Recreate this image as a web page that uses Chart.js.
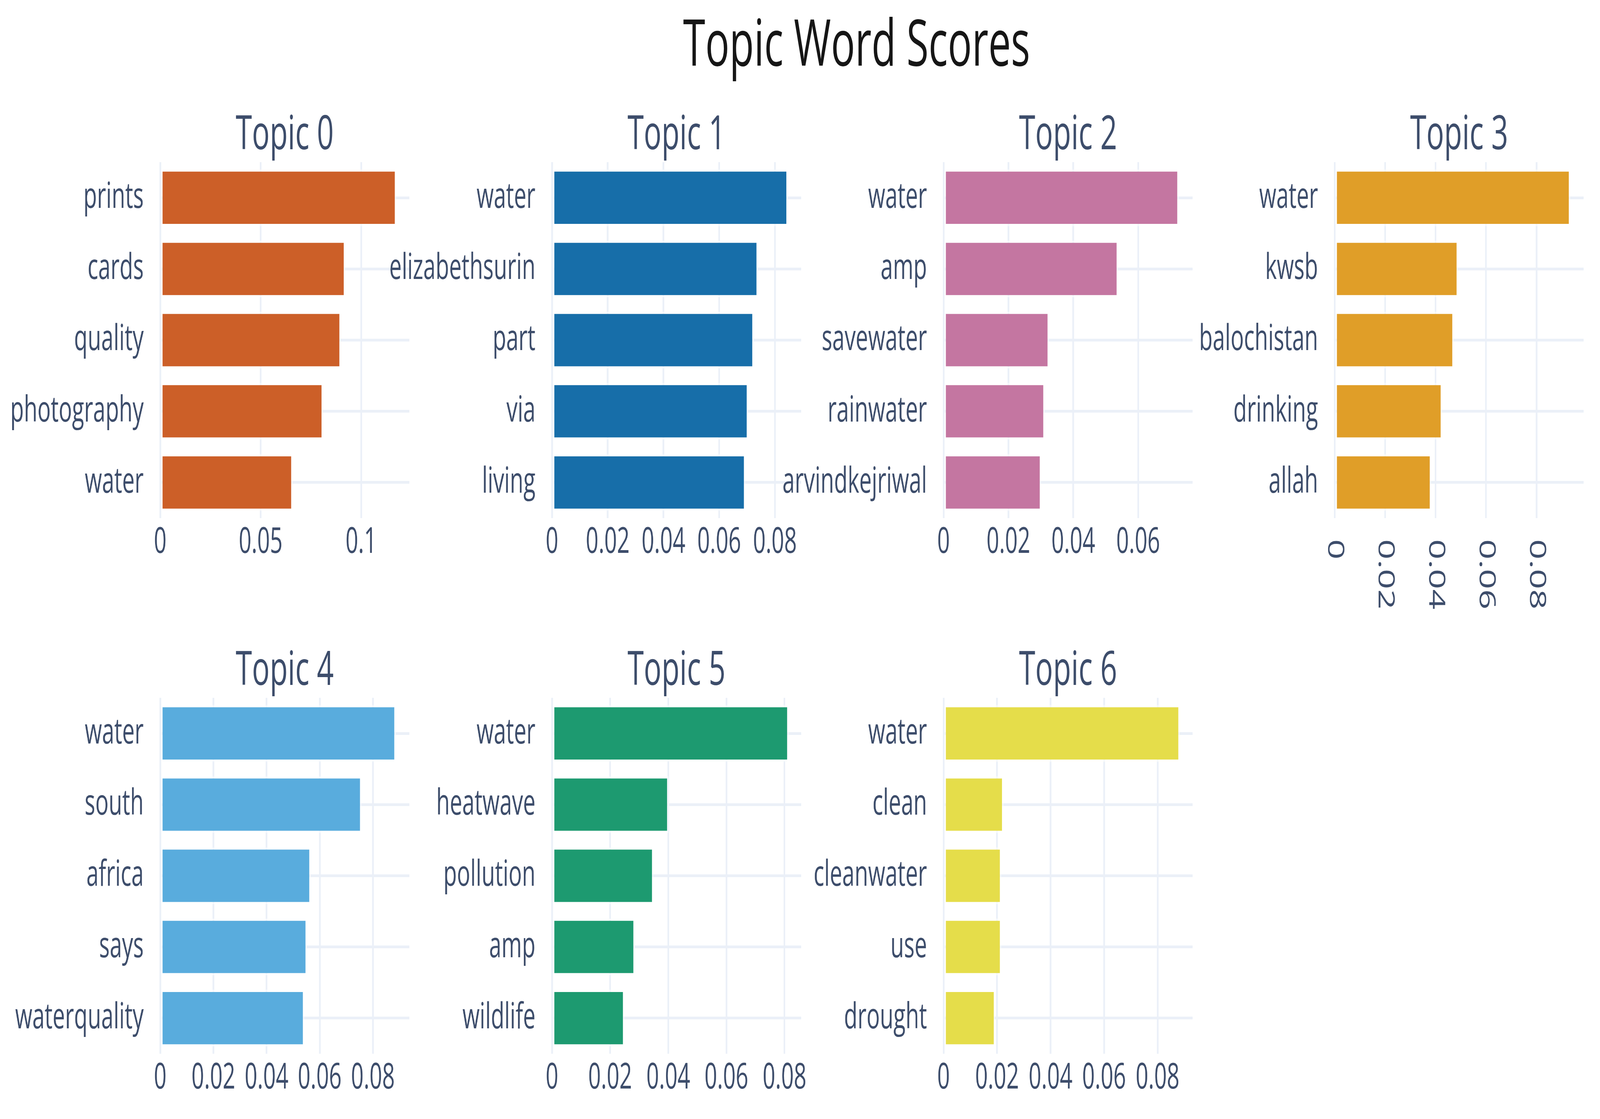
<!DOCTYPE html>
<html>
<head>
<meta charset="utf-8">
<script src="https://cdn.jsdelivr.net/npm/chart.js@4.4.1/dist/chart.umd.min.js"></script>
<style>
    html, body { margin: 0; padding: 0; background: #fff; overflow: hidden; }
    #page { width: 6571px; height: 2864px; position: absolute; left: 0; top: 0;
        transform-origin: 0 0; font-family: "Open Sans", sans-serif; background: #fff; }
    .box { position: absolute; }
    .mainTitle { position: absolute; left: 2518px; top: 4px; width: 2000px; text-align: center;
        font-size: 165px; line-height: 200px; color: #161616; white-space: nowrap; }
    .subTitle { position: absolute; width: 1023px; text-align: center; font-size: 121px;
        line-height: 160px; color: #3d4d6b; white-space: nowrap; }
</style>
</head>
<body>
<div id="page">
    <div class="mainTitle">Topic Word Scores</div>
</div>
<script>
// values
const topicTitles = ['Topic 0', 'Topic 1', 'Topic 2', 'Topic 3', 'Topic 4', 'Topic 5', 'Topic 6'];

const topic0Words = ['prints', 'cards', 'quality', 'photography', 'water'];
const topic0Scores = [0.1175, 0.0921, 0.0899, 0.0810, 0.0659];
const topic1Words = ['water', 'elizabethsurin', 'part', 'via', 'living'];
const topic1Scores = [0.0846, 0.0739, 0.0724, 0.0704, 0.0694];
const topic2Words = ['water', 'amp', 'savewater', 'rainwater', 'arvindkejriwal'];
const topic2Scores = [0.0725, 0.0538, 0.0325, 0.0312, 0.0301];
const topic3Words = ['water', 'kwsb', 'balochistan', 'drinking', 'allah'];
const topic3Scores = [0.0934, 0.0489, 0.0472, 0.0426, 0.0383];
const topic4Words = ['water', 'south', 'africa', 'says', 'waterquality'];
const topic4Scores = [0.0886, 0.0757, 0.0566, 0.0552, 0.0542];
const topic5Words = ['water', 'heatwave', 'pollution', 'amp', 'wildlife'];
const topic5Scores = [0.0814, 0.0401, 0.0349, 0.0285, 0.0249];
const topic6Words = ['water', 'clean', 'cleanwater', 'use', 'drought'];
const topic6Scores = [0.0883, 0.0224, 0.0216, 0.0216, 0.0193];

// x axis ranges and tick steps
const axisMax = [0.124, 0.0894, 0.0768, 0.0987, 0.0937, 0.0857, 0.0931];
const tickStep = [0.05, 0.02, 0.02, 0.02, 0.02, 0.02, 0.02];

const topicWords = [topic0Words, topic1Words, topic2Words, topic3Words, topic4Words, topic5Words, topic6Words];
const topicScores = [topic0Scores, topic1Scores, topic2Scores, topic3Scores, topic4Scores, topic5Scores, topic6Scores];

const barColors = ['#CC5F28', '#176EA9', '#C476A1', '#E09E28', '#59ACDD', '#1D9A70', '#E5DD4A'];

// layout (px, in the 6571 x 2864 page)
const colX = [658, 2267, 3875, 5481];
const rowY = [415, 1786];
const plotW = 1023;
const plotH = 911;
const yAxisW = 700;
const xAxisH = 320;
const padTop = 140;
const padRight = 150;
const textColor = '#3d4d6b';
const gridColor = '#EBF0F8';
const tickFont = { family: 'Open Sans', size: 91 };

// the window may be smaller than the page: fit the whole page into it
const page = document.getElementById('page');
function fitPage() {
    const sx = window.innerWidth / 6571;
    const sy = window.innerHeight / 2864;
    page.style.transform = `scale(${sx}, ${sy})`;
}
fitPage();
window.addEventListener('resize', fitPage);

const fmt = v => String(Number(v.toFixed(4)));

// plotly-style clockwise rotated tick labels (Topic 3)
const rotatedTicks = {
    id: 'rotatedTicks',
    afterDraw(chart, args, opts) {
        if (!opts.on) return;
        const scale = chart.scales.x;
        const ctx = chart.ctx;
        ctx.save();
        ctx.fillStyle = textColor;
        ctx.font = `${tickFont.size}px "Open Sans"`;
        ctx.textAlign = 'left';
        ctx.textBaseline = 'middle';
        scale.ticks.forEach(t => {
            const x = scale.getPixelForValue(t.value);
            ctx.save();
            ctx.translate(x, scale.top + 54);
            ctx.rotate(Math.PI / 2);
            ctx.fillText(fmt(t.value), 0, 0);
            ctx.restore();
        });
        ctx.restore();
    }
};

topicTitles.forEach((title, i) => {
    const col = i % 4;
    const row = Math.floor(i / 4);
    const x0 = colX[col];
    const y0 = rowY[row];

    const t = document.createElement('div');
    t.className = 'subTitle';
    t.style.left = x0 + 'px';
    t.style.top = (y0 - 160) + 'px';
    t.textContent = title;
    page.appendChild(t);

    const box = document.createElement('div');
    box.className = 'box';
    box.style.left = (x0 - yAxisW) + 'px';
    box.style.top = (y0 - padTop) + 'px';
    box.style.width = (yAxisW + plotW + padRight) + 'px';
    box.style.height = (padTop + plotH + xAxisH) + 'px';
    const canvas = document.createElement('canvas');
    box.appendChild(canvas);
    page.appendChild(box);

    const rotated = i === 3;

    new Chart(canvas, {
        type: 'bar',
        data: {
            labels: topicWords[i],
            datasets: [{
                data: topicScores[i],
                backgroundColor: barColors[i],
                borderColor: 'rgba(255,255,255,0.5)',
                borderWidth: 6,
                borderSkipped: false,
                barPercentage: 0.8,
                categoryPercentage: 1.0
            }]
        },
        options: {
            indexAxis: 'y',
            responsive: true,
            maintainAspectRatio: false,
            devicePixelRatio: 1,
            animation: false,
            layout: { padding: { top: padTop, right: padRight, left: 0, bottom: 0 } },
            plugins: {
                legend: { display: false },
                tooltip: { enabled: false },
                rotatedTicks: { on: rotated }
            },
            scales: {
                x: {
                    type: 'linear',
                    min: 0,
                    max: axisMax[i],
                    border: { display: false },
                    grid: { color: gridColor, lineWidth: 7, drawTicks: false },
                    ticks: {
                        display: !rotated,
                        stepSize: tickStep[i],
                        includeBounds: false,
                        maxRotation: 0,
                        autoSkip: false,
                        padding: 8,
                        color: textColor,
                        font: tickFont,
                        callback: v => fmt(v)
                    },
                    afterFit: s => { s.height = xAxisH; }
                },
                y: {
                    border: { display: false },
                    grid: { color: gridColor, lineWidth: 7, drawTicks: false, offset: false },
                    ticks: { padding: 68, color: textColor, font: tickFont },
                    afterFit: s => { s.width = yAxisW; }
                }
            }
        },
        plugins: [rotatedTicks]
    });
});
</script>
</body>
</html>
